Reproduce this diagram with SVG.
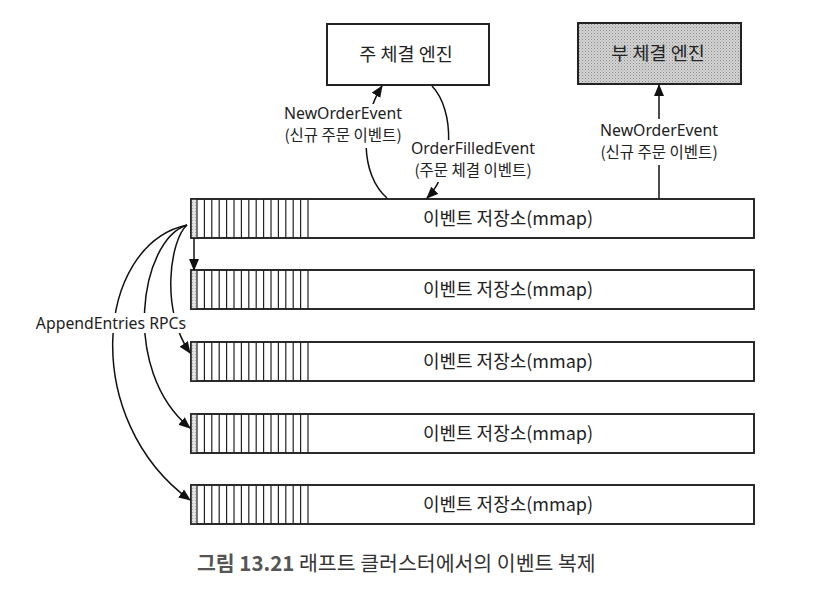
<svg xmlns="http://www.w3.org/2000/svg" width="822" height="594" viewBox="0 0 822 594">
<style>
  .t { font-family: "Noto Sans", "Noto Sans CJK KR", sans-serif; font-size: 15.8px; fill: #222; }
  .kl { font-family: "Noto Sans CJK KR", "Noto Sans", sans-serif; font-size: 15.5px; fill: #222; }
  .k { font-family: "Noto Sans CJK KR", "Noto Sans", sans-serif; font-size: 18px; fill: #222; }
  .ke { font-family: "Noto Sans CJK KR", "Noto Sans", sans-serif; font-size: 18.5px; fill: #222; }
  .bar { fill: #fff; stroke: #222; stroke-width: 1.6; }
  .stripe { stroke: #222; stroke-width: 1.2; }
  .box { fill: #fff; stroke: #222; stroke-width: 2; }
  .conn { fill: none; stroke: #111; stroke-width: 1.5; }
  .bg { fill: #fff; stroke: none; }
</style>
<defs>
  <marker id="ah" markerWidth="12" markerHeight="10" refX="11" refY="5" orient="auto" markerUnits="userSpaceOnUse">
    <path d="M0,0 L12,5 L0,10 Z" fill="#111"/>
  </marker>
  <pattern id="dots" width="3" height="3" patternUnits="userSpaceOnUse">
    <rect width="3" height="3" fill="#d4d4d4"/>
    <rect width="1" height="1" fill="#8a8a8a"/>
    <rect x="1.5" y="1.5" width="1" height="1" fill="#a0a0a0"/>
  </pattern>
  <pattern id="dotsL" width="3" height="3" patternUnits="userSpaceOnUse">
    <rect width="3" height="3" fill="#e2e2e2"/>
    <rect width="1" height="1" fill="#a8a8a8"/>
  </pattern>
  <g id="stripes">
    <rect x="191" y="0" width="6" height="39" fill="url(#dotsL)"/>
    <path class="stripe" d="M197,0V39M204.4,0V39M211.8,0V39M219.2,0V39M226.6,0V39M234,0V39M241.4,0V39M248.8,0V39M256.2,0V39M263.6,0V39M271,0V39M278.4,0V39M285.8,0V39M293.2,0V39M300.6,0V39M308,0V39"/>
  </g>
</defs>
<rect width="822" height="594" fill="#fff"/>

<g id="main-engine">
  <rect class="box" x="327" y="24" width="162" height="61"/>
  <text class="ke" x="406" y="61" text-anchor="middle">주 체결 엔진</text>
</g>
<g id="sub-engine">
  <rect x="578" y="23" width="163" height="61" fill="url(#dots)" stroke="#222" stroke-width="2"/>
  <text class="ke" x="658" y="60" text-anchor="middle">부 체결 엔진</text>
</g>

<g id="store1">
  <rect class="bar" x="191" y="199" width="563" height="39"/>
  <use href="#stripes" y="199"/>
  <rect x="191" y="199" width="563" height="39" fill="none" stroke="#222" stroke-width="1.6"/>
  <text class="k" x="508" y="225" text-anchor="middle">이벤트 저장소(mmap)</text>
</g>
<g id="store2">
  <rect class="bar" x="191" y="270" width="563" height="39"/>
  <use href="#stripes" y="270"/>
  <rect x="191" y="270" width="563" height="39" fill="none" stroke="#222" stroke-width="1.6"/>
  <text class="k" x="508" y="296" text-anchor="middle">이벤트 저장소(mmap)</text>
</g>
<g id="store3">
  <rect class="bar" x="191" y="342" width="563" height="39"/>
  <use href="#stripes" y="342"/>
  <rect x="191" y="342" width="563" height="39" fill="none" stroke="#222" stroke-width="1.6"/>
  <text class="k" x="508" y="368" text-anchor="middle">이벤트 저장소(mmap)</text>
</g>
<g id="store4">
  <rect class="bar" x="191" y="414" width="563" height="39"/>
  <use href="#stripes" y="414"/>
  <rect x="191" y="414" width="563" height="39" fill="none" stroke="#222" stroke-width="1.6"/>
  <text class="k" x="508" y="440" text-anchor="middle">이벤트 저장소(mmap)</text>
</g>
<g id="store5">
  <rect class="bar" x="191" y="485" width="563" height="39"/>
  <use href="#stripes" y="485"/>
  <rect x="191" y="485" width="563" height="39" fill="none" stroke="#222" stroke-width="1.6"/>
  <text class="k" x="508" y="511" text-anchor="middle">이벤트 저장소(mmap)</text>
</g>

<g id="connectors">
  <path class="conn" d="M387,198 C360,175 360,120 382,86" marker-end="url(#ah)"/>
  <path class="conn" d="M432,86 C455,110 455,170 427,198" marker-end="url(#ah)"/>
  <path class="conn" d="M659,198 V85" marker-end="url(#ah)"/>
  <path class="conn" d="M194,238 V270" marker-end="url(#ah)"/>
  <path class="conn" d="M187,225 C170,240 160,310 190,353" marker-end="url(#ah)"/>
  <path class="conn" d="M187,225 C140,240 120,370 190,428" marker-end="url(#ah)"/>
  <path class="conn" d="M187,225 C95,245 80,420 190,500" marker-end="url(#ah)"/>
</g>

<g id="labels">
  <rect class="bg" x="283" y="104" width="122" height="44"/>
  <text class="t" x="343" y="119" text-anchor="middle">NewOrderEvent</text>
  <text class="kl" x="343" y="141" text-anchor="middle">(신규 주문 이벤트)</text>

  <rect class="bg" x="409" y="140" width="128" height="42"/>
  <text class="t" x="473" y="154" text-anchor="middle">OrderFilledEvent</text>
  <text class="kl" x="473" y="176" text-anchor="middle">(주문 체결 이벤트)</text>

  <rect class="bg" x="597" y="119" width="124" height="46"/>
  <text class="t" x="659" y="136" text-anchor="middle">NewOrderEvent</text>
  <text class="kl" x="659" y="158" text-anchor="middle">(신규 주문 이벤트)</text>

  <rect class="bg" x="36" y="313" width="150" height="20"/>
  <text class="t" x="111" y="329" text-anchor="middle">AppendEntries RPCs</text>
</g>

<g id="caption">
  <text x="197" y="571" font-family="Noto Sans CJK KR, Noto Sans, sans-serif" font-size="20.5" fill="#333"><tspan font-weight="bold" fill="#555">그림 13.21</tspan> 래프트 클러스터에서의 이벤트 복제</text>
</g>
</svg>
